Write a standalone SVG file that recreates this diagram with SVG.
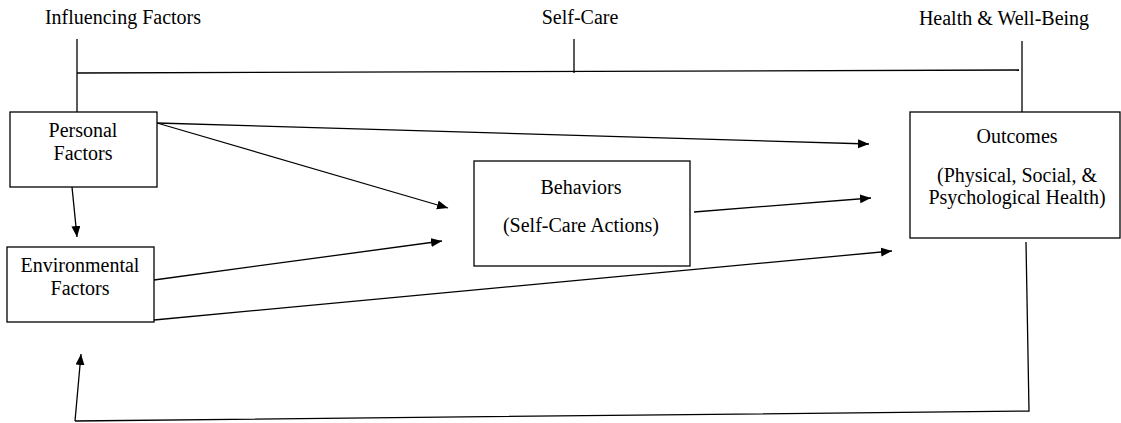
<svg xmlns="http://www.w3.org/2000/svg" width="1121" height="423" viewBox="0 0 1121 423" font-family="Liberation Serif, DejaVu Serif, serif">
<style>
text{font-family:'Liberation Serif','DejaVu Serif',serif;font-size:20px;fill:#000}
.c{text-anchor:middle}
.box{fill:#fff;stroke:#000;stroke-width:1.3}
.ln{fill:none;stroke:#000;stroke-width:1.3}
</style>
<defs>
<marker id="ah" markerUnits="userSpaceOnUse" markerWidth="12" markerHeight="10" refX="11" refY="4.5" orient="auto">
<path d="M0,0 L11,4.5 L0,9 z" fill="#000"/>
</marker>
</defs>
<g id="headers">
<text class="c" x="123" y="24">Influencing Factors</text>
<text class="c" x="580" y="24">Self-Care</text>
<text class="c" x="1004" y="25">Health &amp; Well-Being</text>
</g>
<g id="connectors">
<polyline class="ln" points="77,39 77,112"/>
<polyline class="ln" points="77,73 1019,70"/>
<polyline class="ln" points="574,39 574,73"/>
<polyline class="ln" points="1022,41 1022,112"/>
<line class="ln" x1="157" y1="123" x2="869" y2="144" marker-end="url(#ah)"/>
<line class="ln" x1="157" y1="123" x2="448" y2="208" marker-end="url(#ah)"/>
<line class="ln" x1="72" y1="187" x2="77" y2="237" marker-end="url(#ah)"/>
<line class="ln" x1="154" y1="280" x2="442" y2="241" marker-end="url(#ah)"/>
<line class="ln" x1="154" y1="320" x2="892" y2="251" marker-end="url(#ah)"/>
<line class="ln" x1="694" y1="212" x2="871" y2="198" marker-end="url(#ah)"/>
<polyline class="ln" points="1026,242 1029,411 75,421"/>
<line class="ln" x1="75" y1="421" x2="81" y2="354" marker-end="url(#ah)"/>
</g>
<g id="personal">
<rect class="box" x="10" y="112" width="147" height="75"/>
<text class="c" x="83" y="137">Personal</text>
<text class="c" x="83" y="160">Factors</text>
</g>
<g id="environmental">
<rect class="box" x="7" y="247" width="147" height="75"/>
<text class="c" x="80" y="272">Environmental</text>
<text class="c" x="80" y="295">Factors</text>
</g>
<g id="behaviors">
<rect class="box" x="474" y="161" width="216" height="105"/>
<text class="c" x="581" y="194">Behaviors</text>
<text class="c" x="581" y="232">(Self-Care Actions)</text>
</g>
<g id="outcomes">
<rect class="box" x="910" y="112" width="210" height="126"/>
<text class="c" x="1017" y="143">Outcomes</text>
<text class="c" x="1017" y="182">(Physical, Social, &amp;</text>
<text class="c" x="1017" y="204">Psychological Health)</text>
</g>
</svg>
